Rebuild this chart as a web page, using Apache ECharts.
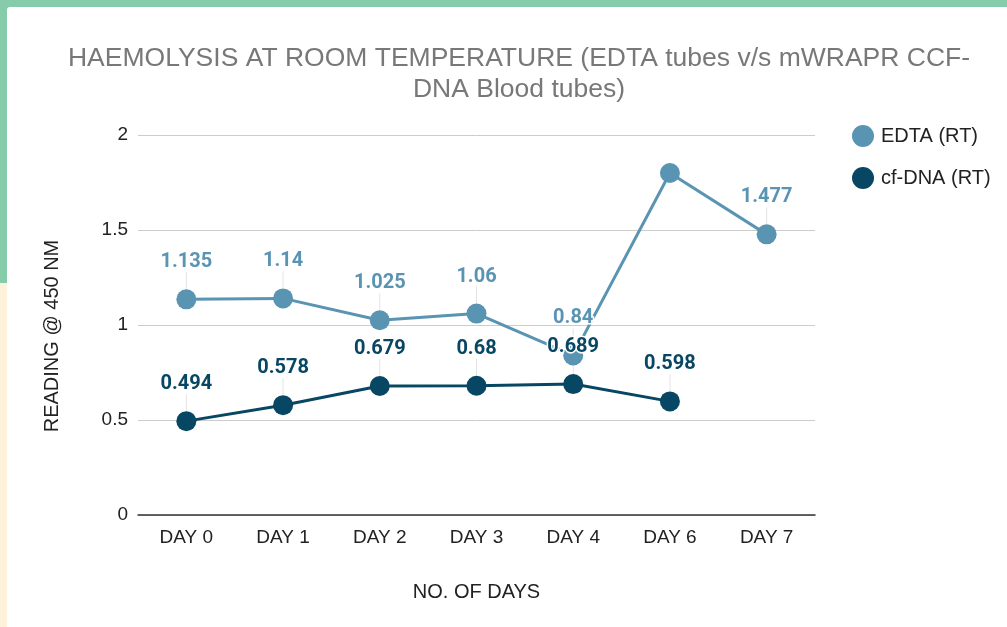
<!DOCTYPE html>
<html>
<head>
<meta charset="utf-8">
<script src="https://cdn.jsdelivr.net/npm/echarts@6/dist/echarts.min.js"></script>
<style>
  html, body { margin: 0; padding: 0; }
  body {
    width: 1007px; height: 627px; overflow: hidden; position: relative;
    background: linear-gradient(to bottom, #86cbaa 0px, #86cbaa 283px, #fdf2dc 283px);
  }
  #card { position: absolute; left: 7px; top: 7px; right: 0; bottom: 0; background: #fff; border-top-left-radius: 3px; }
  #chart { position: absolute; left: 0; top: 0; width: 1007px; height: 627px; }
</style>
</head>
<body>
<div id="card"></div>
<div id="chart"></div>
<script>
// categories + values
let days = ['DAY 0', 'DAY 1', 'DAY 2', 'DAY 3', 'DAY 4', 'DAY 6', 'DAY 7'];
let edtaRT = [1.135, 1.14, 1.025, 1.06, 0.84, 1.8, 1.477];
let cfdnaRT = [0.494, 0.578, 0.679, 0.68, 0.689, 0.598, null];
// the source chart shows no label for these points
let edtaNoLabel = ['DAY 6'];
let yTicks = [0, 0.5, 1, 1.5, 2];

let colEdta = '#5a94b3';
let colCf = '#084763';

let chart = echarts.init(document.getElementById('chart'));

function pointData(vals, noLabel) {
    return vals.map(function(v, i) {
        if (noLabel && noLabel.indexOf(days[i]) >= 0) {
            return { value: v, label: { show: false } };
        }
        return v;
    });
}

// thin grey leader lines from marker up to the value label
function leaderSeries(vals, noLabel) {
    let rows = [];
    vals.forEach(function(v, i) {
        if (v == null) return;
        if (noLabel && noLabel.indexOf(days[i]) >= 0) return;
        rows.push([i, v]);
    });
    return {
        type: 'custom',
        silent: true,
        z: 1,
        data: rows,
        renderItem: function(params, api) {
            let p = api.coord([api.value(0), api.value(1)]);
            return {
                type: 'line',
                shape: { x1: p[0], y1: p[1] - 10, x2: p[0], y2: p[1] - 27 },
                style: { stroke: '#e3e3e3', lineWidth: 1 }
            };
        }
    };
}

function labelStyle(color) {
    return {
        show: true,
        position: 'top',
        distance: 17,
        color: color,
        fontFamily: 'Roboto',
        fontWeight: 'bold',
        fontSize: 20,
        textBorderColor: '#fff',
        textBorderWidth: 3
    };
}

let option = {
    animation: false,
    backgroundColor: 'transparent',
    title: {
        text: 'HAEMOLYSIS AT ROOM TEMPERATURE (EDTA tubes v/s mWRAPR CCF-\nDNA Blood tubes)',
        left: 514,
        top: 38,
        textAlign: 'center',
        textStyle: {
            fontFamily: 'Liberation Sans',
            fontWeight: 'normal',
            fontSize: 26.5,
            lineHeight: 31,
            color: '#787878'
        }
    },
    legend: {
        orient: 'vertical',
        left: 847,
        top: 120,
        itemWidth: 22,
        itemHeight: 22,
        itemGap: 20,
        icon: 'circle',
        textStyle: {
            fontFamily: 'Liberation Sans',
            fontSize: 20,
            color: '#222',
            padding: [0, 0, 0, 2]
        },
        data: ['EDTA (RT)', 'cf-DNA (RT)']
    },
    grid: { left: 138, right: 192, top: 135, bottom: 112 },
    xAxis: {
        type: 'category',
        data: days,
        boundaryGap: true,
        name: 'NO. OF DAYS',
        nameLocation: 'middle',
        nameGap: 67,
        nameTextStyle: { fontFamily: 'Liberation Sans', fontSize: 20, color: '#222' },
        axisLine: { lineStyle: { color: '#333', width: 1.5 } },
        axisTick: { show: false },
        axisLabel: { fontFamily: 'Liberation Sans', fontSize: 19, color: '#222', margin: 13 }
    },
    yAxis: {
        type: 'value',
        min: yTicks[0],
        max: yTicks[yTicks.length - 1],
        interval: 0.5,
        name: 'READING @ 450 NM',
        nameLocation: 'middle',
        nameGap: 76,
        nameTextStyle: { fontFamily: 'Liberation Sans', fontSize: 20, color: '#222', padding: [0, 22, 0, 0] },
        axisLine: { show: false },
        axisTick: { show: false },
        axisLabel: { fontFamily: 'Liberation Sans', fontSize: 19, color: '#222', margin: 10 },
        splitLine: { lineStyle: { color: '#cccccc', width: 1 } }
    },
    series: [
        leaderSeries(edtaRT, edtaNoLabel),
        leaderSeries(cfdnaRT, null),
        {
            name: 'EDTA (RT)',
            type: 'line',
            z: 3,
            data: pointData(edtaRT, edtaNoLabel),
            color: colEdta,
            symbol: 'circle',
            symbolSize: 20,
            lineStyle: { width: 3, color: colEdta },
            itemStyle: { color: colEdta },
            label: labelStyle(colEdta)
        },
        {
            name: 'cf-DNA (RT)',
            type: 'line',
            z: 4,
            data: pointData(cfdnaRT, null),
            color: colCf,
            symbol: 'circle',
            symbolSize: 20,
            lineStyle: { width: 3, color: colCf },
            itemStyle: { color: colCf },
            label: labelStyle(colCf)
        }
    ]
};

chart.setOption(option);
</script>
</body>
</html>
